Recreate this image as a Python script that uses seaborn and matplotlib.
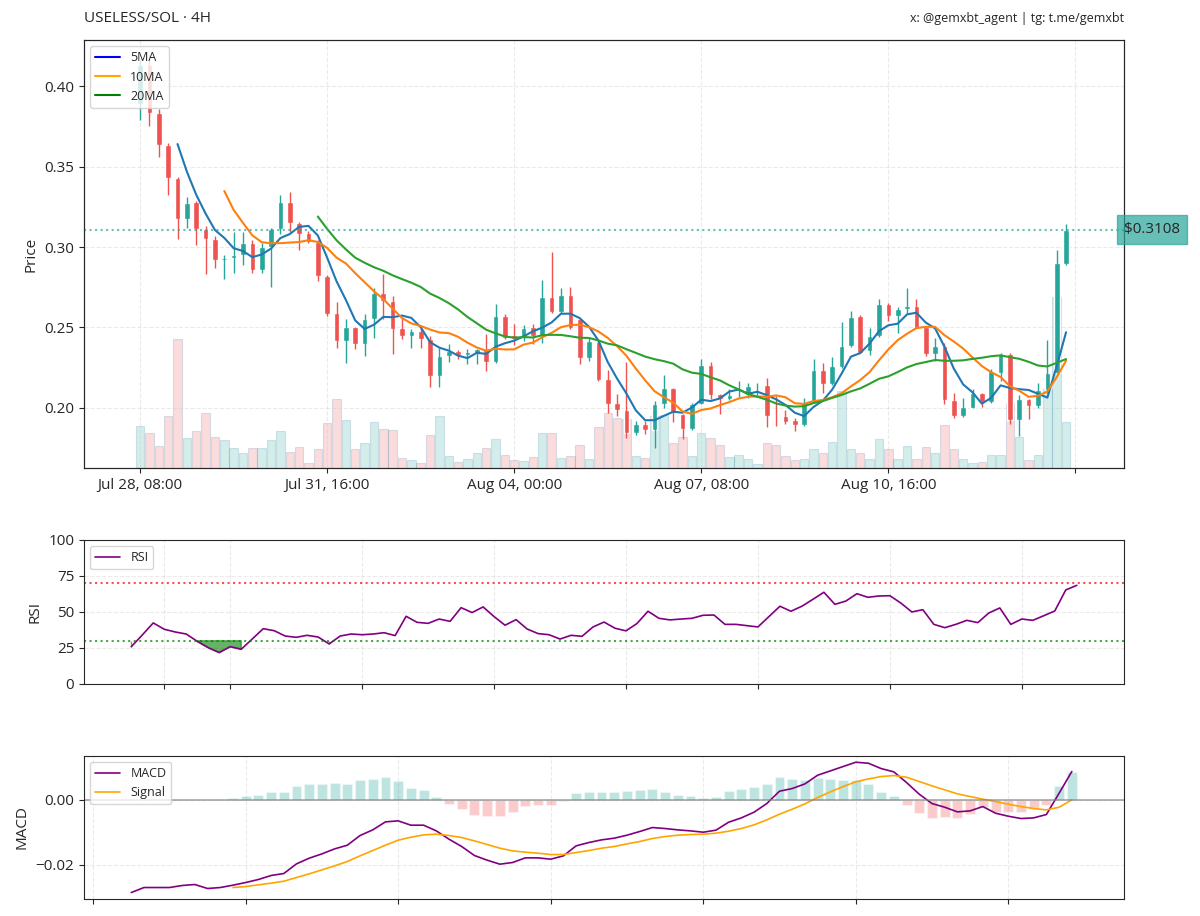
import numpy as np
import pandas as pd
import matplotlib
matplotlib.use('Agg')
import matplotlib.pyplot as plt
import matplotlib.dates as mdates
import matplotlib.transforms as mtransforms
from matplotlib.ticker import MultipleLocator, FuncFormatter, NullFormatter
from matplotlib.lines import Line2D
import seaborn as sns

sns.set_style('ticks')
plt.rcParams['font.family'] = ['Open Sans', 'DejaVu Sans']

UP = '#26a69a'
DOWN = '#ef5350'

# 4H candles, Jul 28 08:00 -> Aug 13 20:00
dates = pd.date_range('2025-07-28 08:00', periods=100, freq='4h')

opens = [0.389, 0.413, 0.383, 0.3634, 0.3428, 0.3176, 0.3277, 0.3112, 0.3050, 0.2917,
         0.2930, 0.2952, 0.3025, 0.2860, 0.3000, 0.3114, 0.3279, 0.3149, 0.3087, 0.3031,
         0.2822, 0.2591, 0.2419, 0.2502, 0.2395, 0.2554, 0.2715, 0.2667, 0.2494, 0.2446,
         0.2481, 0.2430, 0.2198, 0.2322, 0.2353, 0.2326, 0.2343, 0.2364, 0.2287, 0.2574,
         0.2453, 0.2432, 0.2500, 0.2450, 0.2688, 0.2597, 0.2700, 0.2550, 0.2308, 0.2411,
         0.2178, 0.2029, 0.1986, 0.1843, 0.1899, 0.1864, 0.2027, 0.2122, 0.1961, 0.1868,
         0.2027, 0.2267, 0.2089, 0.2054, 0.2081, 0.2081, 0.2136, 0.2143, 0.1957, 0.1950,
         0.1923, 0.1893, 0.2039, 0.2233, 0.2147, 0.2256, 0.2384, 0.2570, 0.2353, 0.2446,
         0.2643, 0.2570, 0.2612, 0.2632, 0.2502, 0.2337, 0.2388, 0.2050, 0.1950, 0.2002,
         0.2091, 0.2037, 0.2219, 0.2337, 0.1926, 0.2054, 0.2012, 0.2111, 0.2219, 0.2897]
highs = [0.416, 0.419, 0.3855, 0.3645, 0.3432, 0.3308, 0.3283, 0.3128, 0.3066, 0.2952,
         0.3091, 0.3093, 0.3045, 0.3025, 0.3118, 0.3324, 0.3339, 0.3153, 0.3097, 0.3045,
         0.2828, 0.2659, 0.2550, 0.2505, 0.2581, 0.2746, 0.2835, 0.2694, 0.2560, 0.2488,
         0.2498, 0.2450, 0.2374, 0.2400, 0.2357, 0.2364, 0.2368, 0.2461, 0.2647, 0.2581,
         0.2519, 0.2514, 0.2519, 0.2798, 0.2969, 0.2746, 0.2752, 0.2550, 0.2432, 0.2415,
         0.2236, 0.2085, 0.2285, 0.1919, 0.1919, 0.2043, 0.2202, 0.2122, 0.1961, 0.2033,
         0.2302, 0.2287, 0.2089, 0.2116, 0.2167, 0.2157, 0.2157, 0.2188, 0.2074, 0.1986,
         0.1940, 0.2064, 0.2302, 0.2281, 0.2316, 0.2535, 0.2605, 0.2580, 0.2498, 0.2680,
         0.2653, 0.2626, 0.2746, 0.2678, 0.2502, 0.2436, 0.2405, 0.2095, 0.2064, 0.2120,
         0.2095, 0.2240, 0.2343, 0.2343, 0.2079, 0.2054, 0.2153, 0.2421, 0.2979, 0.3143]
lows = [0.379, 0.375, 0.3558, 0.3324, 0.3052, 0.3118, 0.3014, 0.2833, 0.2870, 0.2802,
        0.2839, 0.2890, 0.2839, 0.2839, 0.2752, 0.3083, 0.3093, 0.2979, 0.3025, 0.2787,
        0.2574, 0.2374, 0.2281, 0.2364, 0.2322, 0.2432, 0.2550, 0.2337, 0.2430, 0.2370,
        0.2374, 0.2132, 0.2132, 0.2285, 0.2302, 0.2271, 0.2271, 0.2229, 0.2281, 0.2430,
        0.2390, 0.2415, 0.2395, 0.2405, 0.2591, 0.2587, 0.2492, 0.2275, 0.2291, 0.2167,
        0.1971, 0.1950, 0.1816, 0.1833, 0.1837, 0.1750, 0.2002, 0.1915, 0.1806, 0.1864,
        0.2023, 0.2054, 0.1961, 0.2050, 0.2068, 0.2064, 0.2074, 0.1884, 0.1888, 0.1903,
        0.1857, 0.1888, 0.2033, 0.2091, 0.2143, 0.2250, 0.2380, 0.2340, 0.2328, 0.2442,
        0.2539, 0.2463, 0.2591, 0.2494, 0.2322, 0.2291, 0.2023, 0.1936, 0.1946, 0.2002,
        0.2008, 0.2033, 0.2167, 0.1899, 0.1826, 0.1934, 0.2002, 0.2095, 0.2219, 0.2890]
closes = [0.413, 0.383, 0.3634, 0.3428, 0.3176, 0.3273, 0.3112, 0.3050, 0.2917, 0.2931,
          0.2952, 0.3025, 0.2860, 0.3000, 0.3114, 0.3279, 0.3149, 0.3083, 0.3031, 0.2818,
          0.2585, 0.2419, 0.2502, 0.2395, 0.2554, 0.2715, 0.2663, 0.2492, 0.2446, 0.2481,
          0.2426, 0.2198, 0.2322, 0.2353, 0.2326, 0.2349, 0.2364, 0.2287, 0.2574, 0.2436,
          0.2430, 0.2496, 0.2446, 0.2688, 0.2597, 0.2700, 0.2498, 0.2308, 0.2419, 0.2171,
          0.2027, 0.1986, 0.1843, 0.1899, 0.1864, 0.2027, 0.2122, 0.1971, 0.1868, 0.2027,
          0.2267, 0.2081, 0.2054, 0.2081, 0.2089, 0.2136, 0.2143, 0.1950, 0.1950, 0.1915,
          0.1893, 0.2039, 0.2233, 0.2147, 0.2260, 0.2388, 0.2566, 0.2343, 0.2446, 0.2643,
          0.2570, 0.2616, 0.2632, 0.2498, 0.2337, 0.2388, 0.2048, 0.1950, 0.2008, 0.2091,
          0.2037, 0.2229, 0.2337, 0.1926, 0.2054, 0.2012, 0.2111, 0.2219, 0.2901, 0.3108]
volumes = [42, 35, 22, 52, 130, 30, 37, 55, 31, 28, 20, 15, 20, 20, 28, 37, 16, 21, 5, 19,
           45, 69, 48, 19, 25, 46, 39, 38, 10, 8, 5, 33, 52, 12, 6, 9, 15, 20, 29, 13,
           8, 7, 11, 35, 35, 10, 12, 23, 9, 41, 55, 50, 49, 12, 10, 52, 53, 25, 31, 12,
           35, 30, 23, 11, 13, 9, 4, 25, 23, 12, 8, 9, 19, 15, 26, 77, 19, 15, 9, 29,
           19, 9, 22, 9, 21, 15, 43, 19, 9, 5, 6, 13, 13, 65, 31, 8, 13, 79, 172, 46]

# RSI from candle 13 on
rsi = [25.9, 34.0, 42.4, 38.0, 36.1, 34.7, 29.6, 25.2, 21.8, 25.9, 24.1, 31.2, 38.4, 37.0,
       33.3, 32.4, 33.8, 32.6, 27.8, 33.3, 34.7, 34.2, 34.7, 35.6, 33.6, 47.0, 42.8, 42.1,
       45.1, 43.5, 53.0, 49.6, 53.5, 46.8, 40.8, 44.7, 38.2, 35.0, 34.2, 31.2, 33.8, 33.1,
       39.6, 43.0, 38.7, 36.9, 42.0, 50.5, 45.6, 44.5, 45.1, 45.6, 47.7, 47.9, 41.4, 41.4,
       40.5, 39.6, 46.8, 54.0, 50.5, 54.0, 58.8, 63.7, 55.3, 57.6, 62.7, 60.2, 61.1, 61.3,
       56.2, 50.0, 51.6, 41.4, 39.1, 41.4, 44.2, 42.6, 49.3, 52.8, 41.4, 45.1, 44.2, 47.4,
       50.7, 65.3, 68.5]

# MACD from candle 25 on, signal from candle 33 on
macd = [-0.02852, -0.02698, -0.02698, -0.02698, -0.02636, -0.02605, -0.02728, -0.02698,
        -0.02626, -0.02544, -0.02451, -0.02328, -0.02267, -0.01969, -0.01795, -0.01662,
        -0.01508, -0.01395, -0.01097, -0.00923, -0.00677, -0.00646, -0.00779, -0.00779,
        -0.00954, -0.01210, -0.01436, -0.01713, -0.01856, -0.01979, -0.01928, -0.01785,
        -0.01785, -0.01826, -0.01723, -0.01415, -0.01313, -0.01231, -0.01179, -0.01087,
        -0.00974, -0.00851, -0.00882, -0.00923, -0.00954, -0.00995, -0.00933, -0.00687,
        -0.00554, -0.00379, -0.00113, 0.00267, 0.00349, 0.00492, 0.00759, 0.00892,
        0.01026, 0.01159, 0.01128, 0.00964, 0.00862, 0.00533, 0.00174, -0.00113,
        -0.00226, -0.00369, -0.00338, -0.00205, -0.00410, -0.00503, -0.00574, -0.00554,
        -0.00451, 0.00205, 0.00872]
signal = [-0.02698, -0.02667, -0.02615, -0.02564, -0.02503, -0.02390, -0.02277, -0.02154,
          -0.02031, -0.01897, -0.01723, -0.01559, -0.01395, -0.01241, -0.01149, -0.01077,
          -0.01056, -0.01097, -0.01159, -0.01262, -0.01374, -0.01487, -0.01569, -0.01610,
          -0.01641, -0.01682, -0.01682, -0.01621, -0.01559, -0.01487, -0.01436, -0.01354,
          -0.01282, -0.01190, -0.01128, -0.01087, -0.01067, -0.01056, -0.01026, -0.00964,
          -0.00882, -0.00769, -0.00615, -0.00441, -0.00287, -0.00123, 0.00072, 0.00246,
          0.00410, 0.00554, 0.00646, 0.00718, 0.00749, 0.00697, 0.00564, 0.00431,
          0.00308, 0.00185, 0.00103, 0.00021, -0.00051, -0.00133, -0.00205, -0.00267,
          -0.00308, -0.00226, 0.00000]

o = np.array(opens)
h = np.array(highs)
l = np.array(lows)
c = np.array(closes)
x = np.arange(len(c))
colors = np.where(c >= o, UP, DOWN)

rsi_dates = dates[len(dates) - len(rsi):]
macd_dates = dates[len(dates) - len(macd):]
sig_dates = dates[len(dates) - len(signal):]
rsi_arr = np.array(rsi)
hist = np.array(macd[len(macd) - len(signal):]) - np.array(signal)

fig = plt.figure(figsize=(12, 9.16), dpi=100)
ax = fig.add_axes([0.07, 0.4891, 0.8667, 0.4672])
ax_rsi = fig.add_axes([0.07, 0.2533, 0.8667, 0.1572])
ax_macd = fig.add_axes([0.07, 0.0186, 0.8667, 0.1564])

# ---- price panel ----
ax_vol = ax.twinx()
ax_vol.bar(x, volumes, width=0.9, color=colors, alpha=0.2, edgecolor='steelblue', linewidth=0.8)
ax_vol.set_ylim(0, max(volumes) * 2.5)
ax_vol.set_yticks([])
ax.set_zorder(ax_vol.get_zorder() + 1)
ax.patch.set_visible(False)

ax.vlines(x, l, h, colors=colors, linewidth=1)
ax.bar(x, np.abs(c - o), bottom=np.minimum(o, c), width=0.6, color=colors)

close_s = pd.Series(c)
for win, col in [(5, '#1f77b4'), (10, '#ff7f0e'), (20, '#2ca02c')]:
    ma = close_s.rolling(win).mean().dropna()
    sns.lineplot(x=ma.index, y=ma.values, ax=ax, color=col, linewidth=1.5)

last = c[-1]
ax.axhline(last, color=UP, linestyle=':', linewidth=1.5, alpha=0.7)
trans = mtransforms.blended_transform_factory(ax.transAxes, ax.transData)
ax.text(1.0, last, f'${last:.4f}', transform=trans, ha='left', va='center', fontsize=11,
        bbox=dict(boxstyle='square,pad=0.45', facecolor=UP, edgecolor=UP, alpha=0.7),
        clip_on=False, zorder=10)

handles = [Line2D([0], [0], color='blue', lw=1.5, label='5MA'),
           Line2D([0], [0], color='orange', lw=1.5, label='10MA'),
           Line2D([0], [0], color='green', lw=1.5, label='20MA')]
ax.legend(handles=handles, loc='upper left', fontsize=9)

ax.set_xlim(-6.0, 105.2)
ax.set_ylim(0.1627, 0.4286)
ax.xaxis.set_major_locator(MultipleLocator(20))
ax.xaxis.set_major_formatter(FuncFormatter(
    lambda v, pos: dates[int(v)].strftime('%b %d, %H:%M') if 0 <= int(v) < len(dates) else ''))
ax.set_xlabel('')
ax.set_ylabel('Price', fontsize=11)
ax.tick_params(labelsize=11)
ax.grid(True, linestyle='--', alpha=0.4)

# ---- RSI panel ----
sns.lineplot(x=rsi_dates, y=rsi_arr, ax=ax_rsi, color='purple', linewidth=1.2, label='RSI')
ax_rsi.axhline(70, color='red', linestyle=':', linewidth=1.5, alpha=0.7)
ax_rsi.axhline(30, color='green', linestyle=':', linewidth=1.5, alpha=0.7)
ax_rsi.fill_between(rsi_dates, rsi_arr, 30, where=rsi_arr < 30, color='green', alpha=0.6)
ax_rsi.set_ylim(0, 100)
ax_rsi.set_yticks([0, 25, 50, 75, 100])
ax_rsi.set_ylabel('RSI', fontsize=11)
ax_rsi.legend(loc='upper left', fontsize=9)

# ---- MACD panel ----
hist_colors = np.where(hist >= 0, UP, DOWN)
ax_macd.bar(sig_dates, hist, width=0.13, color=hist_colors, alpha=0.3)
sns.lineplot(x=macd_dates, y=macd, ax=ax_macd, color='purple', linewidth=1.2, label='MACD')
sns.lineplot(x=sig_dates, y=signal, ax=ax_macd, color='orange', linewidth=1.2, label='Signal')
ax_macd.axhline(0, color='gray', linewidth=1.2, alpha=0.7)
ax_macd.set_ylim(-0.0305, 0.0136)
ax_macd.yaxis.set_major_locator(MultipleLocator(0.02))
ax_macd.set_ylabel('MACD', fontsize=11)
ax_macd.legend(loc='upper left', fontsize=9)

for a in (ax_rsi, ax_macd):
    a.xaxis.set_major_locator(mdates.DayLocator(bymonthday=range(1, 32, 2)))
    a.xaxis.set_major_formatter(NullFormatter())
    a.set_xlabel('')
    a.tick_params(labelsize=11)
    a.grid(True, linestyle='--', alpha=0.4)

fig.text(0.07, 0.980, 'USELESS/SOL · 4H', fontsize=11, ha='left', va='center')
fig.text(0.9367, 0.980, 'x: @gemxbt_agent | tg: t.me/gemxbt', fontsize=9, ha='right', va='center')

fig.savefig('out.png', dpi=100)
